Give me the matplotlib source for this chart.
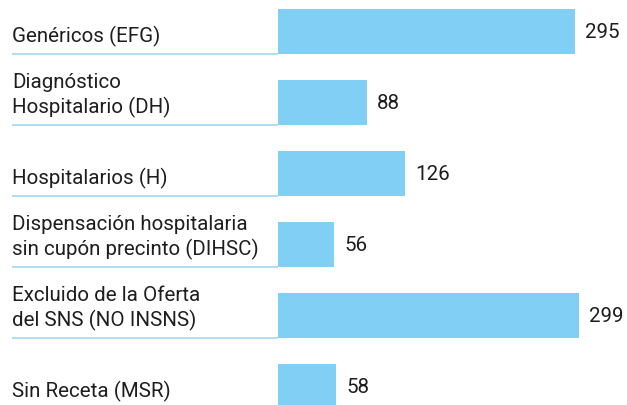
import matplotlib
matplotlib.use("Agg")
import matplotlib.pyplot as plt
from matplotlib.transforms import blended_transform_factory

# datos
categorias = [
    "Genéricos (EFG)",
    "Diagnóstico\nHospitalario (DH)",
    "Hospitalarios (H)",
    "Dispensación hospitalaria\nsin cupón precinto (DIHSC)",
    "Excluido de la Oferta\ndel SNS (NO INSNS)",
    "Sin Receta (MSR)",
]
valores = [295, 88, 126, 56, 299, 58]

azul = "#82cff5"
linea = "#9fd8f3"
texto = "#1e1e1e"

plt.rcParams["font.family"] = ["Roboto", "DejaVu Sans"]

W, H = 627, 406
fig = plt.figure(figsize=(W / 100, H / 100), dpi=100)
x0 = 278
ax = fig.add_axes([x0 / W, 0, (W - x0) / W, 1])

paso = 71
centro0 = 32.3
ax.set_ylim((H - centro0) / paso, -centro0 / paso)
ax.set_xlim(0, (W - x0) / 1.008)
alto = 44.5 / paso

pos = list(range(len(valores)))
ax.barh(pos, valores, height=alto, color=azul, left=0)
ax.axis("off")

tr = blended_transform_factory(fig.transFigure, ax.transData)
for i, (cat, v) in enumerate(zip(categorias, valores)):
    base = i + alto / 2
    ax.text(12 / W, base - 0.1, cat, transform=tr, ha="left", va="bottom",
            fontsize=14.8, color=texto, linespacing=1.35, clip_on=False)
    ax.plot([12 / W, x0 / W], [base, base], transform=tr, color=linea,
            lw=1.2, clip_on=False, solid_capstyle="butt")
    ax.text(v + 10, i, str(v), ha="left", va="center", fontsize=14.8, color=texto)

fig.savefig("out.png", dpi=100)
